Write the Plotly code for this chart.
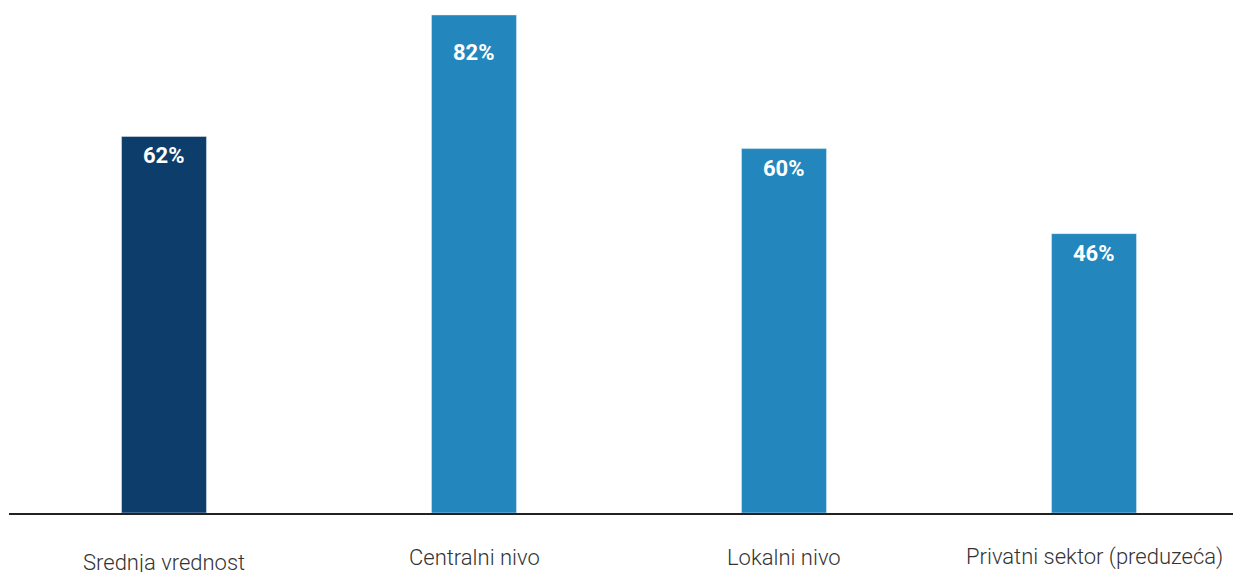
import plotly.graph_objects as go

categories = ["Srednja vrednost", "Centralni nivo", "Lokalni nivo", "Privatni sektor (preduzeća)"]
values = [62, 82, 60, 46]
value_labels = ["62%", "82%", "60%", "46%"]

bar_colors = ["#0d3d6b", "#2387bd", "#2387bd", "#2387bd"]
label_shift = [-49, -44, -44, -44]
value_shift = [-5, -23, -5, -5]

fig = go.Figure()
fig.add_trace(go.Bar(
    x=categories, y=values, marker_color=bar_colors, width=0.274,
    hoverinfo="skip",
))

for c, v, t, s in zip(categories, values, value_labels, value_shift):
    fig.add_annotation(x=c, y=v, text="<b>" + t + "</b>", showarrow=False,
                       yanchor="top", yshift=s,
                       font=dict(family="Roboto", size=22, color="white"))

for c, s in zip(categories, label_shift):
    fig.add_annotation(x=c, y=0, yref="paper", text=c, showarrow=False,
                       yanchor="middle", yshift=s,
                       font=dict(family="Roboto", size=22, color="#333333", weight=300))

fig.update_layout(
    width=1241, height=572,
    margin=dict(l=1, r=0, t=0, b=67),
    paper_bgcolor="white", plot_bgcolor="white",
    showlegend=False,
    xaxis=dict(type="category", range=[-0.5, 3.5], showticklabels=False,
               showline=True, linecolor="#222222", linewidth=1.5,
               showgrid=False, zeroline=False, ticks=""),
    yaxis=dict(range=[0, 83.15], visible=False, showgrid=False, zeroline=False),
)

fig.write_html("out.html")
